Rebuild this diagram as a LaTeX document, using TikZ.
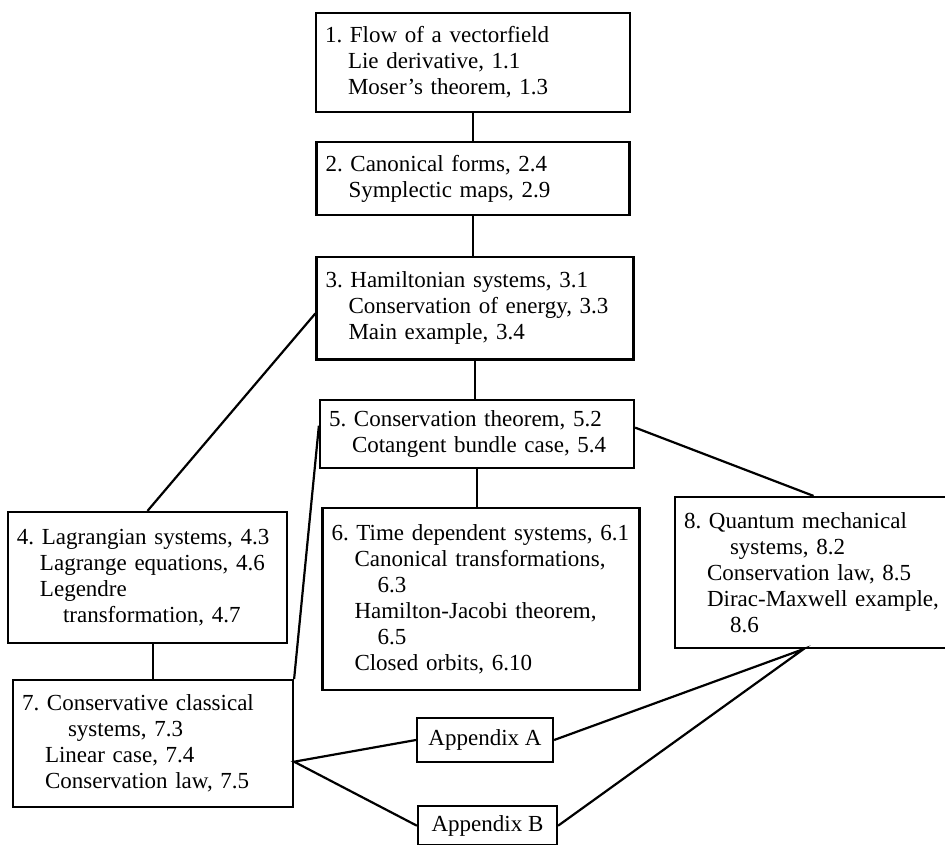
\documentclass[tikz,border=0pt]{standalone}
\usepackage{fontspec}
\setmainfont{Liberation Serif}
\usetikzlibrary{positioning}
\tikzset{font={\fontsize{11.5pt}{13pt}\selectfont\frenchspacing}}
\tikzset{
  topic/.style={draw, line width=1.1pt, inner xsep=4.5pt, inner ysep=2pt, align=left},
  appx/.style={draw, line width=1.1pt, inner sep=2pt},
  link/.style={line width=1.1pt}
}
\newcommand{\hsub}{\hspace*{1em}}
\newcommand{\hcont}{\hspace*{2em}}

\begin{document}
\begin{tikzpicture}[x=0.5pt, y=-0.5pt]
  \useasboundingbox (0,0) rectangle (945,844);
  % Define nodes
  \node[topic, text width=148pt, minimum height=49.5pt] (flow) at (473,62.5)
    {1. Flow of a vectorfield\\ \hsub Lie derivative, 1.1\\ \hsub Moser's theorem, 1.3};
  \node[topic, text width=147.5pt, minimum height=36.5pt, below=14pt of flow] (canon)
    {2. Canonical forms, 2.4\\ \hsub Symplectic maps, 2.9};
  \node[topic, text width=149.5pt, minimum height=51pt, below=20pt of canon, xshift=1pt] (hamil)
    {3. Hamiltonian systems, 3.1\\ \hsub Conservation of energy, 3.3\\ \hsub Main example, 3.4};
  \node[topic, text width=148pt, minimum height=34pt, below=19pt of hamil, xshift=1pt] (consv)
    {5. Conservation theorem, 5.2\\ \hsub Cotangent bundle case, 5.4};
  \node[topic, text width=149.5pt, minimum height=91pt, below=19pt of consv, xshift=2pt] (timedep)
    {6. Time dependent systems, 6.1\\ \hsub Canonical transformations,\\ \hcont 6.3\\
     \hsub Hamilton-Jacobi theorem,\\ \hcont 6.5\\ \hsub Closed orbits, 6.10};
  \node[topic, text width=130.5pt, minimum height=65.5pt] (lagr) at (147.5,577.5)
    {4. Lagrangian systems, 4.3\\ \hsub Lagrange equations, 4.6\\ \hsub Legendre\\ \hcont transformation, 4.7};
  \node[topic, text width=131pt, minimum height=63.5pt, below=17.5pt of lagr, xshift=2.75pt] (classic)
    {7. Conservative classical\\ \hcont systems, 7.3\\ \hsub Linear case, 7.4\\ \hsub Conservation law, 7.5};
  \node[topic, text width=133.5pt, minimum height=75.5pt] (quant) at (817.5,572.5)
    {8. Quantum mechanical\\ \hcont systems, 8.2\\ \hsub Conservation law, 8.5\\
     \hsub Dirac-Maxwell example,\\ \hcont 8.6};
  \node[appx, minimum width=68pt, minimum height=22pt] (appA) at (485,740) {Appendix A};
  \node[appx, minimum width=69.5pt, minimum height=19.5pt, below=21pt of appA, xshift=1.25pt] (appB) {Appendix B};

  % Connect the nodes
  \draw[link] (flow) -- (canon);
  \draw[link] (canon.south) -- (canon.south |- hamil.north);
  \draw[link] (hamil.south) -- (hamil.south |- consv.north);
  \draw[link] (consv.south) -- (consv.south |- timedep.north);
  \draw[link] ([yshift=-2.5pt]hamil.west) -- (lagr.north);
  \draw[link] (classic.north |- lagr.south) -- (classic.north);
  \draw[link] (classic.north east) -- ([yshift=4pt]consv.west);
  \draw[link] ([yshift=3pt]consv.east) -- ([xshift=-2pt]quant.north);
  \draw[link] (appA.east) -- ([xshift=-7pt]quant.south) -- (appB.east);
  \draw[link] (appA.west) -- ([yshift=-9pt]classic.east) -- (appB.west);
\end{tikzpicture}
\end{document}
